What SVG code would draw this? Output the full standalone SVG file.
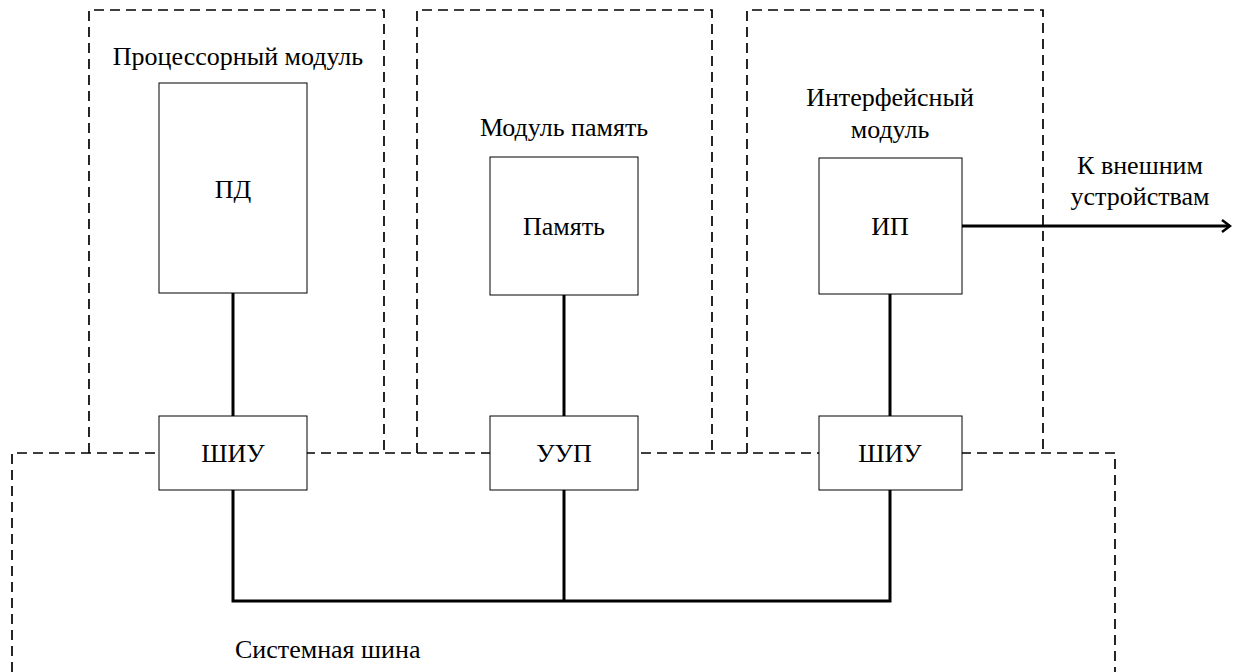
<svg xmlns="http://www.w3.org/2000/svg" width="1238" height="672" viewBox="0 0 1238 672">
  <style>
    .frame { fill: none; stroke: #000; stroke-width: 1.7; stroke-dasharray: 10 6; }
    .box { fill: #fff; stroke: #000; stroke-width: 1; }
    .wire { fill: none; stroke: #000; stroke-width: 3; }
    .lbl { font-family: "Times New Roman", "Liberation Serif", Tinos, "DejaVu Serif", serif; font-size: 26px; fill: #000; text-anchor: middle; }
  </style>
  <defs>
    <marker id="arrow" markerWidth="12" markerHeight="14" refX="10" refY="7" orient="auto" markerUnits="userSpaceOnUse">
      <path d="M2,1 L10,7 L2,13" fill="none" stroke="#000" stroke-width="2.5"/>
    </marker>
  </defs>
  <rect width="1238" height="672" fill="#fff"/>

  <!-- module frames -->
  <g id="frames">
    <path class="frame" d="M89,453 V10 H384 V453"/>
    <path class="frame" d="M417,453 V10 H712 V453"/>
    <path class="frame" d="M747,453 V10 H1043 V453"/>
    <path class="frame" d="M12,672 V453 H1115 V672"/>
  </g>

  <!-- connectors -->
  <g id="connectors">
    <line class="wire" x1="233" y1="293" x2="233" y2="416"/>
    <line class="wire" x1="564" y1="295" x2="564" y2="416"/>
    <line class="wire" x1="890" y1="294" x2="890" y2="416"/>
    <path class="wire" d="M233,490 V601 H890 V490"/>
    <line class="wire" x1="564" y1="490" x2="564" y2="601"/>
    <line class="wire" x1="962" y1="226" x2="1230" y2="226" marker-end="url(#arrow)"/>
  </g>

  <g id="cpu-module">
    <text class="lbl" x="238" y="65">Процессорный модуль</text>
  </g>
  <g id="pd">
    <rect class="box" x="159" y="83" width="148" height="210"/>
    <text class="lbl" x="233" y="198">ПД</text>
  </g>
  <g id="shiu-1">
    <rect class="box" x="159" y="416" width="148" height="74"/>
    <text class="lbl" x="233" y="462">ШИУ</text>
  </g>

  <g id="mem-module">
    <text class="lbl" x="564" y="136">Модуль память</text>
  </g>
  <g id="memory">
    <rect class="box" x="490" y="157" width="148" height="138"/>
    <text class="lbl" x="564" y="235">Память</text>
  </g>
  <g id="uup">
    <rect class="box" x="490" y="416" width="148" height="74"/>
    <text class="lbl" x="564" y="462">УУП</text>
  </g>

  <g id="if-module">
    <text class="lbl" x="890" y="106">Интерфейсный</text>
    <text class="lbl" x="890" y="138">модуль</text>
  </g>
  <g id="ip">
    <rect class="box" x="819" y="158" width="143" height="136"/>
    <text class="lbl" x="890" y="235">ИП</text>
  </g>
  <g id="shiu-2">
    <rect class="box" x="819" y="416" width="143" height="74"/>
    <text class="lbl" x="890" y="462">ШИУ</text>
  </g>

  <g id="external">
    <text class="lbl" x="1140" y="174">К внешним</text>
    <text class="lbl" x="1140" y="205">устройствам</text>
  </g>

  <g id="bus">
    <text class="lbl" x="235" y="658" style="text-anchor: start">Системная шина</text>
  </g>
</svg>
